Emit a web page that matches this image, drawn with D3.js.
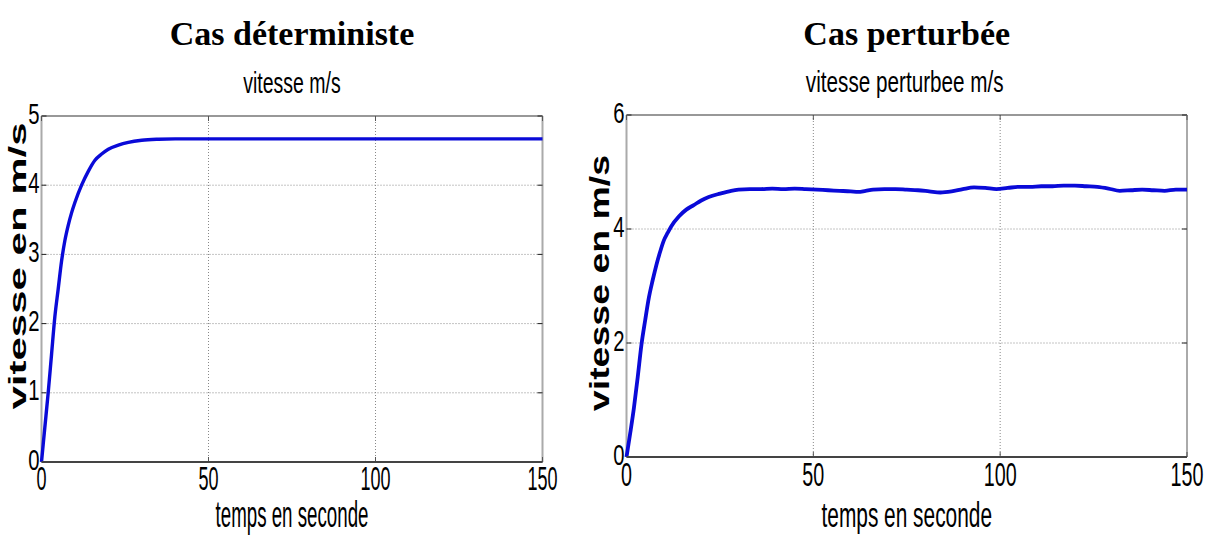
<!DOCTYPE html>
<html>
<head>
<meta charset="utf-8">
<script src="https://cdn.jsdelivr.net/npm/d3@7"></script>
<style>
    body { margin: 0; background: #fff; }
    svg { display: block; }
</style>
</head>
<body>
<div id="chart"></div>
<script>
const lineColor = "#0a0ad8"

// deterministic case, time (s) and speed (m/s)
const detTime = [0, 1, 2, 3, 4, 5, 6, 7, 8, 9, 10, 12, 14, 16, 18, 20, 23, 26, 30, 35, 40, 50, 75, 100, 125, 150];
const detSpeed = [0, 0.5, 1.0, 1.55, 2.1, 2.5, 2.9, 3.2, 3.42, 3.6, 3.75, 4.0, 4.2, 4.36, 4.45, 4.52, 4.58, 4.62, 4.65, 4.665, 4.67, 4.67, 4.67, 4.67, 4.67, 4.67];

// perturbed case
const pertTime = [0, 1, 2, 3, 4, 5, 6, 7, 8, 9, 10, 11, 12, 14, 16, 18, 20, 22, 25, 28, 30, 33, 36, 39, 42, 45, 48, 51, 54, 57, 60, 62, 64, 66, 69, 72, 75, 78, 81, 84, 87, 90, 93, 96, 99, 102, 105, 108, 111, 114, 117, 120, 123, 126, 129, 132, 135, 138, 141, 144, 147, 150];
const pertSpeed = [0, 0.42, 0.87, 1.4, 1.97, 2.4, 2.8, 3.1, 3.37, 3.6, 3.8, 3.93, 4.05, 4.22, 4.34, 4.42, 4.5, 4.56, 4.62, 4.67, 4.69, 4.70, 4.70, 4.71, 4.70, 4.71, 4.70, 4.69, 4.68, 4.67, 4.66, 4.65, 4.67, 4.69, 4.70, 4.70, 4.69, 4.68, 4.66, 4.64, 4.66, 4.70, 4.73, 4.72, 4.70, 4.72, 4.74, 4.74, 4.75, 4.75, 4.76, 4.76, 4.75, 4.74, 4.71, 4.67, 4.68, 4.69, 4.68, 4.67, 4.69, 4.69];

const xTicks = [0, 50, 100, 150];
const detYTicks = [0, 1, 2, 3, 4, 5];
const pertYTicks = [0, 2, 4, 6];

const svg = d3.select("#chart")
    .append("svg")
    .attr("width", 1212)
    .attr("height", 536);

svg.append("rect").attr("width", 1212).attr("height", 536).attr("fill", "#fff");

// text helper, MATLAB export is squeezed so every label gets its own scale
function addText(o) {
    svg.append("text")
        .attr("transform", "translate(" + o.x + "," + o.y + ") rotate(" + (o.rot || 0) + ") scale(" + (o.sx || 1) + "," + (o.sy || 1) + ")")
        .attr("text-anchor", o.anchor || "middle")
        .attr("dominant-baseline", o.base || "alphabetic")
        .attr("font-family", o.family || "Liberation Sans, Arial, sans-serif")
        .attr("font-weight", o.weight || "normal")
        .attr("font-size", o.size)
        .attr("fill", "#000")
        .text(o.text);
}

function drawPanel(p) {
    const x = d3.scaleLinear().domain([0, 150]).range([p.left, p.right]);
    const y = d3.scaleLinear().domain([0, p.yMax]).range([p.bottom, p.top]);

    // dotted grid
    svg.append("g")
        .selectAll("line")
        .data(p.yTicks.filter(d => d > 0 && d < p.yMax))
        .enter().append("line")
        .attr("x1", p.left).attr("x2", p.right)
        .attr("y1", d => y(d)).attr("y2", d => y(d))
        .attr("stroke", "#888").attr("stroke-width", 1)
        .attr("stroke-dasharray", "1,2");

    svg.append("g")
        .selectAll("line")
        .data(xTicks.filter(d => d > 0 && d < 150))
        .enter().append("line")
        .attr("x1", d => x(d)).attr("x2", d => x(d))
        .attr("y1", p.top).attr("y2", p.bottom)
        .attr("stroke", "#888").attr("stroke-width", 1)
        .attr("stroke-dasharray", "1,2");

    // box
    svg.append("line").attr("x1", p.left).attr("x2", p.right).attr("y1", p.top).attr("y2", p.top)
        .attr("stroke", "#333").attr("stroke-width", 1.2);
    svg.append("line").attr("x1", p.left).attr("x2", p.left).attr("y1", p.top).attr("y2", p.bottom)
        .attr("stroke", "#aaa").attr("stroke-width", 2);
    svg.append("line").attr("x1", p.right).attr("x2", p.right).attr("y1", p.top).attr("y2", p.bottom)
        .attr("stroke", "#aaa").attr("stroke-width", 2);

    // inward ticks on both sides
    const tl = 5;
    p.yTicks.forEach(d => {
        svg.append("line").attr("x1", p.left).attr("x2", p.left + tl).attr("y1", y(d)).attr("y2", y(d)).attr("stroke", "#222");
        svg.append("line").attr("x1", p.right - tl).attr("x2", p.right).attr("y1", y(d)).attr("y2", y(d)).attr("stroke", "#222");
    });
    xTicks.forEach(d => {
        svg.append("line").attr("x1", x(d)).attr("x2", x(d)).attr("y1", p.bottom).attr("y2", p.bottom - tl).attr("stroke", "#555");
        svg.append("line").attr("x1", x(d)).attr("x2", x(d)).attr("y1", p.top).attr("y2", p.top + tl).attr("stroke", "#555");
    });

    // the curve
    const line = d3.line()
        .x(d => x(d[0]))
        .y(d => y(d[1]))
        .curve(p.curve);
    svg.append("path")
        .datum(d3.zip(p.time, p.speed))
        .attr("d", line)
        .attr("fill", "none")
        .attr("stroke", lineColor)
        .attr("stroke-width", p.width)
        .attr("stroke-linejoin", "round");

    svg.append("line").attr("x1", p.left).attr("x2", p.right).attr("y1", p.bottom).attr("y2", p.bottom)
        .attr("stroke", "#444").attr("stroke-width", 2);

    // tick labels
    p.yTicks.forEach(d => addText({ x: p.left - 2, y: y(d), text: d, size: 29, sx: 0.7, anchor: "end", base: "middle" }));
    xTicks.forEach(d => addText({ x: x(d), y: p.bottom + p.tdy, text: d, size: 34, sx: p.tsx }));

    const cx = (p.left + p.right) / 2;
    addText({ x: cx, y: 45, text: p.title, size: 34, weight: "bold", family: "Liberation Serif, Times New Roman, serif" });
    addText({ x: cx + p.subDx, y: p.subY, text: p.subtitle, size: 30, sx: p.subSx });
    addText({ x: cx, y: 527, text: "temps en seconde", size: 36, sx: p.xlSx });
    addText({ x: p.ylX, y: p.ylY, text: "vitesse en m/s", size: p.ylSize, sy: p.ylSy, rot: -90, weight: "bold" });
}

drawPanel({
    left: 41.5, right: 542.5, top: 116, bottom: 462, yMax: 5,
    yTicks: detYTicks, time: detTime, speed: detSpeed,
    curve: d3.curveMonotoneX, width: 3.4,
    title: "Cas déterministe", subtitle: "vitesse m/s", subDx: 0, subSx: 0.65, subY: 93,
    tsx: 0.53, tdy: 28, xlSx: 0.52,
    ylX: 26, ylY: 266, ylSize: 42, ylSy: 0.58
});

drawPanel({
    left: 626.5, right: 1187, top: 115, bottom: 457, yMax: 6,
    yTicks: pertYTicks, time: pertTime, speed: pertSpeed,
    curve: d3.curveMonotoneX, width: 3.8,
    title: "Cas perturbée", subtitle: "vitesse perturbee m/s", subDx: -2, subSx: 0.69, subY: 92,
    tsx: 0.58, tdy: 29, xlSx: 0.58,
    ylX: 609, ylY: 283, ylSize: 37.5, ylSy: 0.72
});
</script>
</body>
</html>
